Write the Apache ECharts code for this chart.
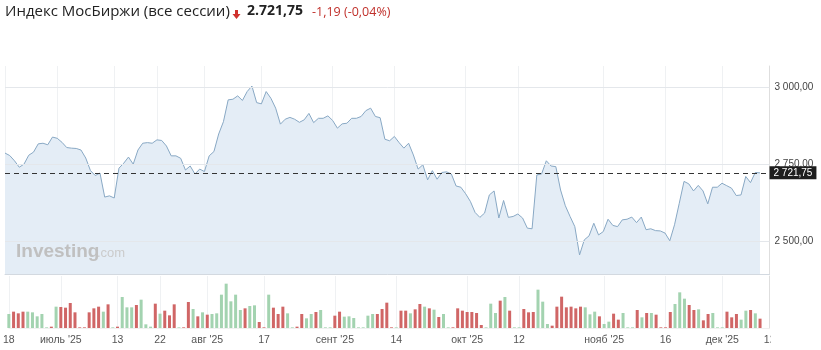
<!DOCTYPE html>
<html><head><meta charset="utf-8">
<script src="https://cdn.jsdelivr.net/npm/echarts@6/dist/echarts.min.js"></script>
<style>html,body{margin:0;padding:0;background:#fff}#c{width:821px;height:350px}</style>
</head><body><div id="c"></div>
<script>
// ---- data ----
const titleText = 'Индекс МосБиржи (все сессии)';
const closes = [
2786,2778,2761,2740,2750,2779,2789,2816,2818,2813,
2838,2834,2821,2804,2802,2801,2796,2770,2729,2713,
2721,2643,2647,2640,2737,2753,2773,2750,2796,2818,
2820,2818,2829,2827,2809,2777,2777,2769,2731,2744,
2718,2734,2726,2777,2791,2848,2888,2959,2961,2972,
2957,2986,3004,2950,2946,2986,2964,2932,2880,2896,
2902,2896,2886,2894,2915,2885,2899,2899,2907,2892,
2867,2881,2883,2899,2899,2905,2924,2932,2905,2901,
2831,2826,2840,2820,2802,2818,2780,2734,2748,2699,
2729,2701,2723,2725,2718,2679,2675,2654,2629,2593,
2577,2591,2650,2663,2575,2632,2577,2580,2588,2575,
2542,2540,2715,2718,2761,2744,2742,2666,2615,2580,
2547,2455,2504,2517,2558,2520,2531,2571,2551,2547,
2569,2571,2578,2560,2578,2537,2540,2534,2533,2526,
2501,2553,2623,2694,2686,2663,2681,2663,2621,2675,
2675,2688,2680,2672,2648,2650,2710,2690,2722.94,2721.75];
const volumes = [
42,49,44,49,49,47,35,42,2,4,
64,63,61,75,47,2,2,47,59,64,
49,71,2,4,93,62,62,69,85,11,
4,73,43,52,38,71,2,2,78,57,
35,47,40,42,44,100,133,80,100,54,
59,66,68,18,2,100,61,42,64,44,
2,4,42,29,42,48,54,2,2,37,
49,34,35,30,2,2,37,42,42,57,
76,2,2,52,52,44,56,72,64,59,
55,33,42,2,2,59,52,48,48,45,
9,2,73,45,82,93,52,2,2,57,
47,48,115,79,12,7,64,94,62,64,
59,64,62,41,49,35,12,19,43,25,
45,2,2,54,32,45,45,40,2,2,
48,72,107,88,69,54,56,23,42,45,
2,2,49,32,42,25,52,54,44,28];
const tickIndex = [0,11,23,32,42,54,69,82,97,108,126,139,151,161];
const tickText = ['18',"июль '25",'13','22',"авг '25",'17',"сент '25",'14',"окт '25",'12',"нояб '25",'16',"дек '25",'12'];
const priceTicks = [2500, 2750, 3000];
const priceTickText = ['2 500,00', '2 750,00', '3 000,00'];
const padSlots = 2;

// ---- derived ----
const categories = Array.from({length: closes.length + padSlots}, (_, i) => String(i));
const tickMap = {};
tickIndex.forEach((ix, k) => tickMap[ix] = tickText[k]);
const isTick = (i) => tickMap[i] !== undefined;
const last = closes[closes.length - 1];
const prev = closes[closes.length - 2];
const chg = last - prev;
const pct = chg / prev * 100;
function fmtSpace(v){ const s = v.toFixed(2).split('.'); return s[0].replace(/\B(?=(\d{3})+(?!\d))/g,' ') + ',' + s[1]; }
function fmtDot(v){ const s = v.toFixed(2).split('.'); return s[0].replace(/\B(?=(\d{3})+(?!\d))/g,'.') + ',' + s[1]; }
const UP = '#a3d3b0', DOWN = '#d06666';
const volData = volumes.map((v, i) => ({
  value: v,
  itemStyle: { color: (i === 0 || closes[i] >= closes[i-1]) ? UP : DOWN }
}));
const gridLinesML = priceTicks.map((v, k) => ({ yAxis: v, label: { formatter: priceTickText[k] } }));
gridLinesML.push({
  yAxis: last,
  lineStyle: { type: [5, 4], color: '#333', width: 1 },
  label: { formatter: fmtSpace(last), backgroundColor: '#1e1e1e', color: '#fff', padding: [2, 4, 1, 4], distance: 0, fontSize: 10 }
});

const chart = echarts.init(document.getElementById('c'), null, { renderer: 'canvas' });
const FONT = '"Liberation Sans", Arial, sans-serif';
chart.setOption({
  animation: false,
  textStyle: { fontFamily: FONT },
  grid: [
    { left: 5, right: 51.5, top: 66, bottom: 76 },
    { left: 5, right: 51.5, top: 276, bottom: 22 }
  ],
  xAxis: [
    { gridIndex: 0, type: 'category', boundaryGap: false, data: categories,
      axisLabel: { show: false }, axisTick: { show: false },
      axisLine: { show: true, lineStyle: { color: '#d3d9e0', width: 1 } },
      splitLine: { show: true, interval: (i) => isTick(i), lineStyle: { color: '#eff1f3' } } },
    { gridIndex: 1, type: 'category', boundaryGap: false, data: categories,
      axisTick: { show: false },
      axisLine: { show: true, lineStyle: { color: '#f0f0f0' } },
      splitLine: { show: true, interval: (i) => isTick(i), lineStyle: { color: '#eff1f3' } },
      axisLabel: { interval: (i) => isTick(i), formatter: (v, i) => tickMap[i] || '',
        color: '#555', fontSize: 10.5, margin: 7, fontFamily: FONT } }
  ],
  yAxis: [
    { gridIndex: 0, type: 'value', position: 'right', min: 2393, max: 3069,
      axisLabel: { show: false }, splitLine: { show: false }, axisTick: { show: false },
      axisLine: { show: true, lineStyle: { color: '#dedede' } } },
    { gridIndex: 1, type: 'value', position: 'right', min: 0, max: 156,
      axisLabel: { show: false }, splitLine: { show: false }, axisTick: { show: false },
      axisLine: { show: true, lineStyle: { color: '#dedede' } } }
  ],
  series: [
    { type: 'line', xAxisIndex: 0, yAxisIndex: 0, data: closes, symbol: 'none',
      lineStyle: { color: '#88a8c4', width: 1 },
      areaStyle: { color: '#e4edf6', origin: 'start', opacity: 1 },
      markLine: { silent: true, symbol: ['none', 'none'], animation: false,
        lineStyle: { color: '#e4e7eb', type: 'solid', width: 1 },
        label: { position: 'end', color: '#444', fontSize: 10, distance: 5, fontFamily: FONT },
        data: gridLinesML } },
    { type: 'bar', xAxisIndex: 1, yAxisIndex: 1, data: volData, barWidth: 3 }
  ],
  graphic: [
    { type: 'text', left: 5, top: 4, style: { text: titleText, font: '15px "Open Sans", sans-serif', fill: '#222' } },
    { type: 'polygon', shape: { points: [[235,10],[238,10],[238,14],[240.5,14],[236.5,19],[232.5,14],[235,14]] }, style: { fill: '#d0312d' } },
    { type: 'text', left: 247, top: 4, style: { text: fmtDot(last), font: 'bold 14px "Open Sans", sans-serif', fill: '#222' } },
    { type: 'text', left: 312, top: 6, style: { text: (chg<0?'-':'+') + Math.abs(chg).toFixed(2).replace('.', ','), font: '12.5px "Open Sans", sans-serif', fill: '#c0302b' } },
    { type: 'text', left: 344, top: 6, style: { text: '(' + (pct<0?'-':'+') + Math.abs(pct).toFixed(2).replace('.', ',') + '%)', font: '12.5px "Open Sans", sans-serif', fill: '#c0302b' } },
    { type: 'text', left: 16, top: 242, z: 10, style: { text: 'Investing', font: 'bold 19px "Liberation Sans", Arial, sans-serif', fill: '#c0c0c0' } },
    { type: 'text', left: 97, top: 247, z: 10, style: { text: '.com', font: '13px "Liberation Sans", Arial, sans-serif', fill: '#cbcbcb' } },
    { type: 'rect', left: 770.5, top: 332, z: 100, shape: { width: 60, height: 18 }, style: { fill: '#fff' } }
  ]
});
</script></body></html>
